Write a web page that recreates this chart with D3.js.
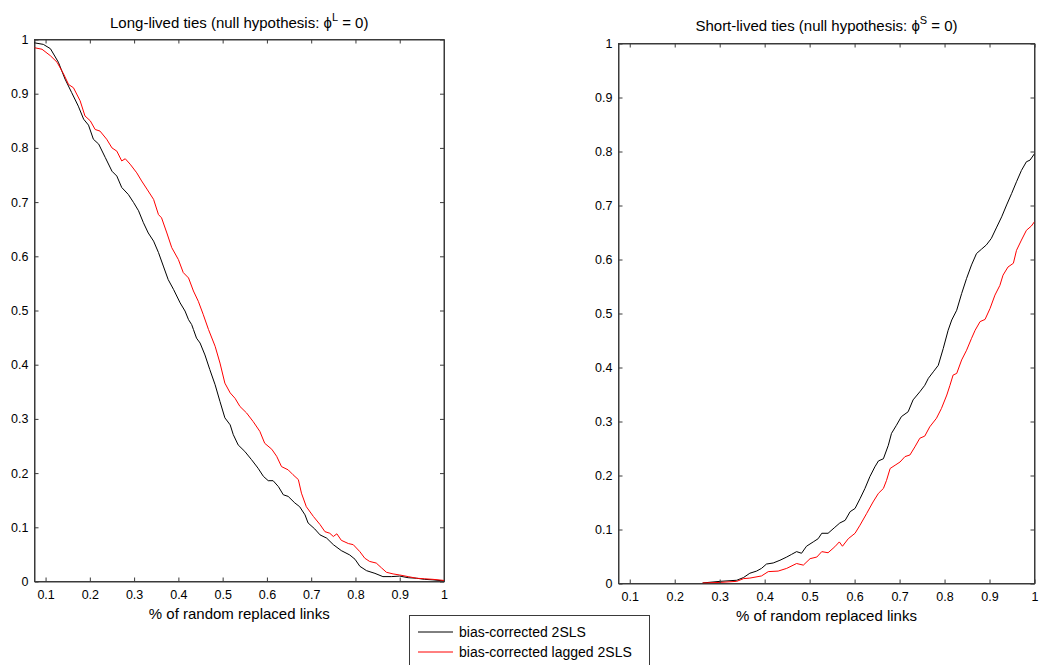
<!DOCTYPE html>
<html><head><meta charset="utf-8">
<script src="https://cdn.jsdelivr.net/npm/d3@7"></script>
<style>
body{margin:0;background:#fff;}
text{font-family:"Liberation Sans",Arial,Helvetica,sans-serif;fill:#000;}
</style></head>
<body><svg id="c" width="1041" height="665"></svg>
<script>
// ---- data ----
const xTicks = [0.1,0.2,0.3,0.4,0.5,0.6,0.7,0.8,0.9,1];
const yTicks = [0,0.1,0.2,0.3,0.4,0.5,0.6,0.7,0.8,0.9,1];
const seriesNames = ["bias-corrected 2SLS","bias-corrected lagged 2SLS"];
const seriesColors = ["#000000","#ff0000"];
const titleLong = "Long-lived ties (null hypothesis: ";
const titleShort = "Short-lived ties (null hypothesis: ";
const xLabel = "% of random replaced links";

const longBlackX = [0.074,0.095,0.111,0.129,0.144,0.159,0.174,0.186,0.197,0.208,0.220,0.235,0.250,0.261,0.272,0.287,0.299,0.310,0.321,0.332,0.344,0.355,0.366,0.377,0.389,0.404,0.415,0.423,0.430,0.434,0.441,0.449,0.460,0.471,0.483,0.494,0.505,0.517,0.524,0.535,0.550,0.565,0.580,0.592,0.603,0.614,0.626,0.637,0.648,0.663,0.674,0.686,0.693,0.708,0.720,0.735,0.750,0.768,0.787,0.799,0.810,0.825,0.844,0.862,0.881,0.900,0.919,0.938,0.956,0.975,1.0];
const longBlackY = [0.994,0.991,0.983,0.958,0.927,0.902,0.877,0.853,0.842,0.816,0.807,0.782,0.757,0.748,0.727,0.714,0.699,0.684,0.662,0.643,0.628,0.607,0.582,0.557,0.539,0.514,0.499,0.483,0.474,0.465,0.449,0.440,0.418,0.391,0.363,0.332,0.302,0.289,0.271,0.252,0.240,0.225,0.209,0.194,0.186,0.186,0.175,0.160,0.157,0.145,0.138,0.123,0.108,0.097,0.086,0.080,0.068,0.057,0.049,0.041,0.028,0.020,0.015,0.009,0.009,0.010,0.007,0.006,0.004,0.003,0.001];
const longRedX = [0.074,0.092,0.111,0.126,0.141,0.152,0.163,0.178,0.189,0.201,0.212,0.223,0.238,0.250,0.261,0.272,0.280,0.291,0.306,0.317,0.329,0.344,0.355,0.362,0.374,0.385,0.400,0.411,0.423,0.434,0.445,0.456,0.468,0.483,0.494,0.505,0.517,0.528,0.539,0.554,0.569,0.584,0.595,0.611,0.622,0.633,0.648,0.659,0.671,0.678,0.689,0.705,0.720,0.731,0.742,0.750,0.758,0.768,0.784,0.795,0.810,0.821,0.832,0.847,0.859,0.870,0.885,0.900,0.919,0.938,0.956,0.975,1.0];
const longRedY = [0.985,0.982,0.970,0.958,0.936,0.917,0.911,0.887,0.859,0.850,0.834,0.831,0.816,0.800,0.794,0.776,0.780,0.770,0.754,0.739,0.724,0.705,0.677,0.671,0.643,0.616,0.594,0.570,0.560,0.536,0.517,0.493,0.465,0.434,0.403,0.366,0.348,0.338,0.323,0.311,0.295,0.277,0.255,0.244,0.231,0.212,0.206,0.197,0.188,0.163,0.138,0.120,0.105,0.092,0.089,0.083,0.088,0.076,0.070,0.068,0.055,0.043,0.037,0.034,0.025,0.017,0.014,0.012,0.009,0.006,0.005,0.004,0.002];

const shortBlackX = [0.262,0.301,0.338,0.353,0.367,0.382,0.393,0.404,0.419,0.434,0.449,0.460,0.471,0.482,0.493,0.508,0.519,0.527,0.541,0.556,0.567,0.579,0.590,0.601,0.612,0.623,0.634,0.645,0.653,0.664,0.675,0.682,0.693,0.704,0.719,0.730,0.745,0.756,0.764,0.775,0.786,0.797,0.808,0.816,0.827,0.838,0.849,0.860,0.871,0.882,0.893,0.904,0.916,0.927,0.938,0.949,0.960,0.971,0.982,0.990,1.0];
const shortBlackY = [0.001,0.004,0.006,0.011,0.019,0.023,0.028,0.036,0.038,0.043,0.049,0.054,0.059,0.056,0.069,0.077,0.083,0.093,0.093,0.104,0.112,0.117,0.133,0.139,0.157,0.176,0.198,0.216,0.227,0.231,0.256,0.278,0.293,0.309,0.318,0.340,0.355,0.367,0.380,0.392,0.404,0.435,0.469,0.488,0.506,0.537,0.565,0.590,0.611,0.619,0.627,0.639,0.660,0.679,0.701,0.722,0.744,0.765,0.781,0.784,0.796];
const shortRedX = [0.262,0.301,0.338,0.353,0.367,0.393,0.408,0.430,0.449,0.471,0.486,0.501,0.516,0.527,0.541,0.556,0.566,0.573,0.586,0.601,0.612,0.627,0.641,0.653,0.664,0.671,0.679,0.690,0.701,0.712,0.723,0.734,0.745,0.756,0.767,0.782,0.793,0.805,0.812,0.819,0.827,0.838,0.849,0.860,0.868,0.879,0.890,0.901,0.912,0.923,0.930,0.941,0.953,0.960,0.971,0.982,0.993,1.0];
const shortRedY = [0.001,0.002,0.004,0.009,0.010,0.014,0.022,0.023,0.028,0.037,0.034,0.046,0.049,0.059,0.057,0.068,0.077,0.069,0.083,0.093,0.108,0.130,0.151,0.167,0.176,0.191,0.213,0.219,0.225,0.235,0.238,0.253,0.269,0.273,0.290,0.306,0.324,0.349,0.367,0.386,0.389,0.414,0.432,0.454,0.469,0.485,0.489,0.509,0.534,0.552,0.571,0.586,0.593,0.617,0.636,0.654,0.662,0.670];

// ---- drawing ----
const svg = d3.select("#c");
const axisColor = "#3a3a3a";

function panel(box, title, sup, series){
  const x = d3.scaleLinear().domain([0.075,1]).range([box.x0, box.x1]);
  const y = d3.scaleLinear().domain([0,1]).range([box.y1, box.y0]);
  const g = svg.append("g");
  g.append("rect").attr("x",box.x0).attr("y",box.y0)
    .attr("width",box.x1-box.x0).attr("height",box.y1-box.y0)
    .attr("fill","none").attr("stroke",axisColor).attr("stroke-width",1);
  const line = d3.line().x(d=>x(d[0])).y(d=>y(d[1]));
  series.forEach((s,i)=>{
    const pts = d3.zip(s[0], s[1]);
    g.append("path").attr("d",line(pts)).attr("fill","none")
      .attr("stroke",seriesColors[i]).attr("stroke-width",1);
  });
  const tl = 4;
  const xb = g.append("g").attr("transform",`translate(0,${box.y1})`)
    .call(d3.axisBottom(x).tickValues(xTicks).tickSizeInner(-tl).tickSizeOuter(0).tickPadding(9).tickFormat(d3.format("~g")));
  const xt = g.append("g").attr("transform",`translate(0,${box.y0})`)
    .call(d3.axisTop(x).tickValues(xTicks).tickSizeInner(-tl).tickSizeOuter(0).tickFormat(""));
  const yl = g.append("g").attr("transform",`translate(${box.x0},0)`)
    .call(d3.axisLeft(y).tickValues(yTicks).tickSizeInner(-tl).tickSizeOuter(0).tickPadding(6).tickFormat(d3.format("~g")));
  const yr = g.append("g").attr("transform",`translate(${box.x1},0)`)
    .call(d3.axisRight(y).tickValues(yTicks).tickSizeInner(-tl).tickSizeOuter(0).tickFormat(""));
  [xb,xt,yl,yr].forEach(a=>{
    a.select(".domain").attr("stroke",axisColor);
    a.selectAll(".tick line").attr("stroke",axisColor);
    a.selectAll(".tick text").style("font-family","'Liberation Sans',Arial,sans-serif").style("font-size","12.5px").attr("fill","#000");
  });
  const cx = (box.x0+box.x1)/2;
  const t = g.append("text").attr("x",cx).attr("y",box.titleY).attr("text-anchor","middle")
    .style("font-size","15px");
  t.append("tspan").text(title);
  t.append("tspan").text("\u03D5");
  t.append("tspan").attr("dy",-7).style("font-size","11px").text(sup);
  t.append("tspan").attr("dy",7).text(" = 0)");
  g.append("text").attr("x",cx).attr("y",box.y1+37).attr("text-anchor","middle")
    .style("font-size","15px").text(xLabel);
}

panel({x0:34.5,x1:444,y0:39.5,y1:581.5,titleY:28}, titleLong, "L",
  [[longBlackX,longBlackY],[longRedX,longRedY]]);
panel({x0:618.5,x1:1034.5,y0:43.5,y1:583.5,titleY:31}, titleShort, "S",
  [[shortBlackX,shortBlackY],[shortRedX,shortRedY]]);

const lg = svg.append("g");
lg.append("rect").attr("x",409.5).attr("y",615.5).attr("width",240).attr("height",60)
  .attr("fill","#fff").attr("stroke",axisColor);
seriesNames.forEach((n,i)=>{
  const yy = 632 + i*20;
  lg.append("line").attr("x1",418).attr("x2",453).attr("y1",yy).attr("y2",yy)
    .attr("stroke",seriesColors[i]).attr("stroke-width",1);
  lg.append("text").attr("x",459).attr("y",yy+5).style("font-size","14px").text(n);
});
</script></body></html>
